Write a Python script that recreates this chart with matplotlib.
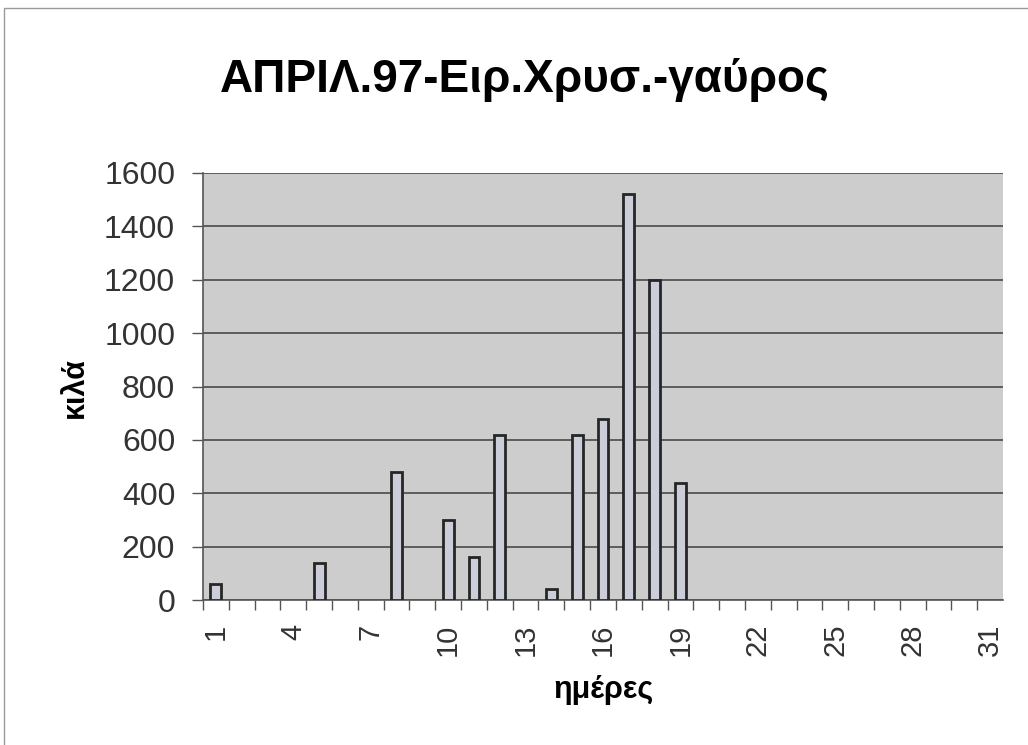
import matplotlib
matplotlib.use("Agg")
import matplotlib.pyplot as plt
from matplotlib.patches import Rectangle

plt.rcParams['font.family'] = ['Liberation Sans', 'DejaVu Sans']

days = list(range(1, 32))
kilos = [60, 0, 0, 0, 140, 0, 0, 480, 0, 300, 160, 620, 0, 40, 620, 680,
         1520, 1200, 440, 0, 0, 0, 0, 0, 0, 0, 0, 0, 0, 0, 0]
tick_days = [1, 4, 7, 10, 13, 16, 19, 22, 25, 28, 31]
y_ticks = [0, 200, 400, 600, 800, 1000, 1200, 1400, 1600]
title = "ΑΠΡΙΛ.97-Ειρ.Χρυσ.-γαύρος"
xlabel = "ημέρες"
ylabel = "κιλά"

fig = plt.figure(figsize=(10.28, 7.45), dpi=100)
fig.patch.set_facecolor('white')
ax = fig.add_axes([203/1028, 1-600/745, 800/1028, 427/745])
ax.set_facecolor('#cdcdcd')

bar_days = [d for d, k in zip(days, kilos) if k > 0]
bar_vals = [k for k in kilos if k > 0]
ax.bar(bar_days, bar_vals, width=0.42, color='#cbced8', edgecolor='#262626', linewidth=2, zorder=3)

ax.set_xlim(0.5, 31.5)
ax.set_ylim(0, 1600)
ax.set_yticks(y_ticks)
ax.set_yticklabels([str(v) for v in y_ticks], fontsize=23, color='#333333')
ax.yaxis.grid(True, color='#4a4a4a', linewidth=1.2, zorder=1)
ax.set_axisbelow(True)

ax.set_xticks([d + 0.5 for d in range(0, 31)], minor=False)
ax.set_xticklabels([])
ax.tick_params(axis='x', which='major', length=7, width=1, color='#555555', direction='out')
ax.set_xticks(tick_days, minor=True)
ax.set_xticklabels([str(d) for d in tick_days], minor=True, rotation=90, fontsize=21, color='#333333')
ax.tick_params(axis='x', which='minor', length=0, pad=17)
ax.tick_params(axis='y', length=8, width=1, color='#555555', direction='out', pad=12)

for s in ['top', 'right']:
    ax.spines[s].set_visible(False)
ax.spines['left'].set_color('#555555')
ax.spines['bottom'].set_color('#555555')
ax.spines['left'].set_linewidth(1.2)
ax.spines['bottom'].set_linewidth(1.2)

fig.text(525/1028, 1-80/745, title, fontsize=33, fontweight='bold', ha='center', va='center')
fig.text(604/1028, 1-690/745, xlabel, fontsize=22, fontweight='bold', ha='center', va='center')
fig.text(75/1028, 1-388/745, ylabel, fontsize=22, fontweight='bold', ha='center', va='center', rotation=90)

fig.add_artist(Rectangle((4/1028, -0.01), 1.2, 1-8/745+0.01, transform=fig.transFigure,
                         fill=False, edgecolor='#999999', linewidth=1))

fig.savefig("out.png", dpi=100)
